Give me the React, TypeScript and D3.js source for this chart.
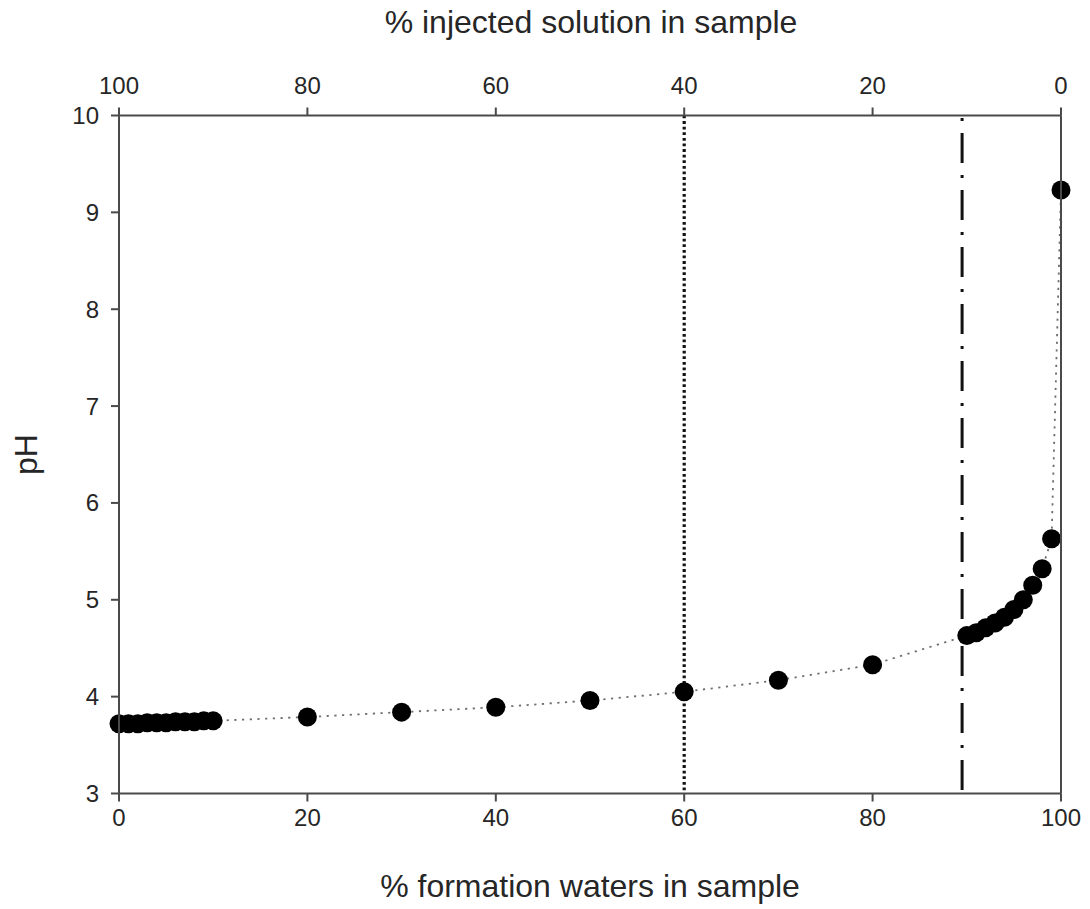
import React from "react";
import * as d3 from "d3";

// Mixing series: % formation water in sample vs measured pH
const formationPct = [
  0, 1, 2, 3, 4, 5, 6, 7, 8, 9, 10,
  20, 30, 40, 50, 60, 70, 80,
  90, 91, 92, 93, 94, 95, 96, 97, 98, 99, 100,
];
const phValues = [
  3.72, 3.72, 3.72, 3.73, 3.73, 3.73, 3.74, 3.74, 3.74, 3.75, 3.75,
  3.79, 3.84, 3.89, 3.96, 4.05, 4.17, 4.33,
  4.63, 4.66, 4.71, 4.76, 4.82, 4.9, 5.0, 5.15, 5.32, 5.63, 9.23,
];

const bottomTicks = [0, 20, 40, 60, 80, 100];
const topTicks = [100, 80, 60, 40, 20, 0];
const yTicks = [3, 4, 5, 6, 7, 8, 9, 10];

// Reference lines (in % formation water)
const dottedLineAt = 60;
const dashDotLineAt = 89.5;

const W = 1090;
const H = 909;
const FONT = "Liberation Sans, Arial, sans-serif";

export default function App() {
  const x = d3.scaleLinear().domain([0, 100]).range([119, 1061]);
  const xTop = d3.scaleLinear().domain([100, 0]).range([119, 1061]);
  const y = d3.scaleLinear().domain([3, 10]).range([793.5, 115.5]);

  const pts = formationPct.map((f, i) => ({ f, p: phValues[i] }));
  const line = d3
    .line<{ f: number; p: number }>()
    .x((d) => x(d.f))
    .y((d) => y(d.p));

  const axisColor = "#4a4a4a";
  const textColor = "#262626";
  const tickLen = 8;
  const tickFont = 24;
  const titleFont = 32;
  const [x0, x1] = x.range();
  const [y0, y1] = y.range();

  return (
    <svg
      width={W}
      height={H}
      style={{ position: "absolute", left: 0, top: 0, background: "#fff" }}
      fontFamily={FONT}
    >
      {/* connecting dotted line */}
      <path
        d={line(pts) || ""}
        fill="none"
        stroke="#6e6e6e"
        strokeWidth={1.8}
        strokeDasharray="2.2,5.5"
      />

      {/* vertical reference lines */}
      <line
        x1={x(dottedLineAt)}
        x2={x(dottedLineAt)}
        y1={y1}
        y2={y0}
        stroke="#111"
        strokeWidth={3.2}
        strokeDasharray="2.8,2.8"
      />
      <line
        x1={x(dashDotLineAt)}
        x2={x(dashDotLineAt)}
        y1={y1}
        y2={y0}
        stroke="#111"
        strokeWidth={3}
        strokeDasharray="30,12,3,12"
        strokeDashoffset={39.5}
      />

      {/* data points */}
      {pts.map((d, i) => (
        <circle key={i} cx={x(d.f)} cy={y(d.p)} r={9.5} fill="#000" />
      ))}

      {/* frame */}
      <g stroke={axisColor} strokeWidth={2} fill="none">
        <line x1={x0} x2={x1} y1={y0} y2={y0} />
        <line x1={x0} x2={x1} y1={y1} y2={y1} />
        <line x1={x0} x2={x0} y1={y0} y2={y1} />
        <line x1={x1} x2={x1} y1={y0} y2={y1} />
      </g>

      {/* bottom axis */}
      {bottomTicks.map((t) => (
        <g key={"b" + t}>
          <line
            x1={x(t)}
            x2={x(t)}
            y1={y0}
            y2={y0 + tickLen}
            stroke={axisColor}
            strokeWidth={2}
          />
          <text
            x={x(t)}
            y={y0 + 32.5}
            textAnchor="middle"
            fontSize={tickFont}
            fill={textColor}
          >
            {t}
          </text>
        </g>
      ))}

      {/* top axis */}
      {topTicks.map((t) => (
        <g key={"t" + t}>
          <line
            x1={xTop(t)}
            x2={xTop(t)}
            y1={y1}
            y2={y1 - tickLen}
            stroke={axisColor}
            strokeWidth={2}
          />
          <text
            x={xTop(t)}
            y={y1 - 22}
            textAnchor="middle"
            fontSize={tickFont}
            fill={textColor}
          >
            {t}
          </text>
        </g>
      ))}

      {/* left axis */}
      {yTicks.map((t) => (
        <g key={"y" + t}>
          <line
            x1={x0 - tickLen}
            x2={x0}
            y1={y(t)}
            y2={y(t)}
            stroke={axisColor}
            strokeWidth={2}
          />
          <text
            x={x0 - 20}
            y={y(t) + 8.5}
            textAnchor="end"
            fontSize={tickFont}
            fill={textColor}
          >
            {t}
          </text>
        </g>
      ))}

      {/* axis titles */}
      <text
        x={(x0 + x1) / 2}
        y={897}
        textAnchor="middle"
        fontSize={titleFont}
        fill={textColor}
      >
        % formation waters in sample
      </text>
      <text
        x={(x0 + x1) / 2 + 1}
        y={33}
        textAnchor="middle"
        fontSize={titleFont}
        fill={textColor}
      >
        % injected solution in sample
      </text>
      <text
        transform={`translate(37, ${(y0 + y1) / 2}) rotate(-90)`}
        textAnchor="middle"
        fontSize={titleFont}
        fill={textColor}
      >
        pH
      </text>
    </svg>
  );
}
